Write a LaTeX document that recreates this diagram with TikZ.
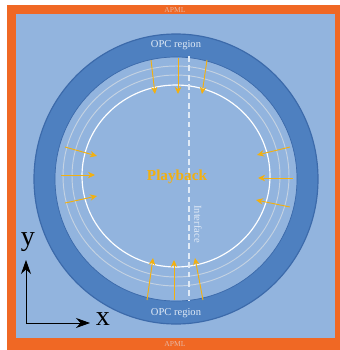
\documentclass[tikz,border=0pt]{standalone}
\usepackage{fontspec}
\setmainfont{Liberation Serif}
\usetikzlibrary{arrows.meta}

\definecolor{apmlorange}{RGB}{240,104,36}
\definecolor{bgblue}{RGB}{146,180,222}
\definecolor{ringblue}{RGB}{78,128,192}
\definecolor{ringedge}{RGB}{60,106,170}
\definecolor{flowgold}{RGB}{242,176,16}
\definecolor{trackgrey}{RGB}{196,210,226}
\definecolor{labelwhite}{RGB}{224,234,246}

\begin{document}
\begin{tikzpicture}[
    x=0.03cm, y=-0.03cm,
    flow/.style={
        draw=flowgold,
        line width=0.8pt,
        -{Stealth[length=6pt,width=5.5pt]}
    },
    track/.style={
        draw=trackgrey,
        line width=0.8pt
    },
    axis/.style={
        draw=black,
        line width=0.7pt,
        -{Stealth[length=4.2mm,width=3mm]}
    },
    ringlabel/.style={
        text=labelwhite,
        font=\fontsize{9}{10}\selectfont
    },
    framelabel/.style={
        text=labelwhite!60!apmlorange,
        font=\fontsize{6.5}{7}\selectfont
    },
    axislabel/.style={
        font=\fontsize{24}{26}\selectfont
    }
]

\useasboundingbox (0,0) rectangle (340,350);

% frame
\fill[apmlorange] (7,5) rectangle (340,350);
\fill[bgblue] (16,14) rectangle (335,338);

\node[framelabel] (apmltop) at (175,9.5) {APML};
\node[framelabel] (apmlbot) at (175,344) {APML};

% OPC ring
\fill[ringblue, even odd rule]
    (176,179) ellipse [x radius=142, y radius=145]
    (176,179) ellipse [x radius=121, y radius=122];
\draw[ringedge, line width=1pt] (176,179) ellipse [x radius=142, y radius=145];
\draw[ringedge, line width=0.6pt] (176,179) ellipse [x radius=121, y radius=122];

% tracks
\draw[track] (176,176) ellipse [x radius=113, y radius=110];
\draw[track] (176,176) ellipse [x radius=104, y radius=101];
\draw[track, draw=white, line width=1pt] (176,176) ellipse [x radius=94, y radius=91];

% interface
\coordinate (itop) at (189,56);
\coordinate (ibot) at (189,300);
\draw[labelwhite, line width=1pt, dash pattern=on 5pt off 3pt] (itop) -- (ibot);
\node[ringlabel, rotate=-90, fill=bgblue, inner sep=1pt] (iface) at (198,224) {Interface};

\node[ringlabel] (opctop) at (176,45) {OPC region};
\node[ringlabel] (opcbot) at (176,313) {OPC region};

\node[text=flowgold, font=\fontsize{13}{15}\selectfont\bfseries] (play) at (177,177) {Playback};

% flows into the playback area
\foreach \i/\tx/\ty/\hx/\hy in {
    1/151/60/155/94, 2/178/58/178/94, 3/207/60/202/94,
    4/147/300/153/258, 5/174/300/174/260, 6/203/300/195/258,
    7/65/147/97/156, 8/61/175/95/175, 9/65/203/97/196,
    10/290/147/257/155, 11/293/178/258/178, 12/290/207/256/200}{
    \coordinate (t\i) at (\tx,\ty);
    \coordinate (h\i) at (\hx,\hy);
    \draw[flow] (t\i) -- (h\i);
}

% axes
\coordinate (o) at (26,323);
\coordinate (ytip) at (26,260);
\coordinate (xtip) at (90,323);
\draw[axis] (o) -- (ytip);
\draw[axis] (o) -- (xtip);
\node[axislabel] (ylab) at (28,242) {y};
\node[axislabel] (xlab) at (103,319) {x};

\end{tikzpicture}
\end{document}
